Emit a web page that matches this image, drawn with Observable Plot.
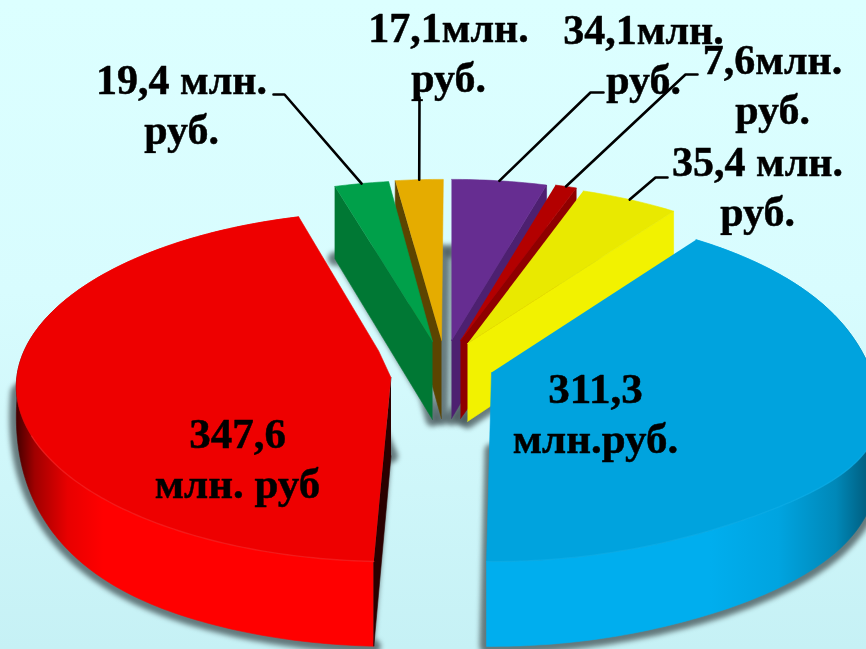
<!DOCTYPE html>
<html><head><meta charset="utf-8">
<script src="https://cdn.jsdelivr.net/npm/d3@7"></script>
<script src="https://cdn.jsdelivr.net/npm/@observablehq/plot@0.6"></script>
<style>
html,body{margin:0;padding:0;width:866px;height:649px;overflow:hidden;background:linear-gradient(180deg,#dcffff 0%,#d8fcfe 45%,#c6f1f5 100%);}
svg{display:block;background:transparent!important;}
</style></head><body><div id="chart"></div>
<script>
// data
const names  = ["red","green","orange","purple","crimson","yellow","blue"];
const values = [347.6, 19.4, 17.1, 34.1, 7.6, 35.4, 311.3];
const labels = ["347,6\nмлн. руб","19,4 млн.\nруб.","17,1млн.\nруб.","34,1млн.\nруб.","7,6млн.\nруб.","35,4 млн.\nруб.","311,3\nмлн.руб."];

// styles
const topColors  = ["#ee0000","#00a04a","#e5ac00","#662d91","#b30000","#e9e900","#00a3de"];
const wallColors = ["url(#wallRed)",null,null,null,null,null,"url(#wallBlue)"];
const cutColors  = ["#2a0000","#007834","#5c4400","#4d2070","#8f0000","#f2f200","#00a3de"];
const cutSide    = ["start","start","start","end","end","end",null];
const rimColors  = ["#ff3a3a",null,null,null,null,null,"#12b6f2"];

// layout of the exploded slices: apex in pixels, rotation in degrees, apex chamfer, front bulge
const apexX = [391,432,441,451,460,467,491];
const apexY = [372,341,340,340,340,343,372];
const twist = [1.5,0.7,0.3,0,0,0,-0.3];
const chamfer = [[0.03,0.13],[0,0],[0,0],[0,0],[0,0],[0,0],[0,0]];
const bulge = [0,0,0,0,0,0,0.06];
const RX = 374, RY = 174, K = 0.08, DEPTH = 78, W = 866, H = 649;

// label layout: centre x, first baseline y, elbow and end of the leader
const labelX = [237,181,448,643,772,757,595];
const labelY = [447,93,41,43,73,175,402];
const labelSize = [43,42,42,42,42,42,43];
const elbowA = [null,[284,94],[419,97],[590,92],[685,74],[655,177],null];
const elbowB = [null,[273,94],[419,97],[603,92],[697,74],[667,177],null];

const LINE = 50;

const pieArcs = d3.pie().sort(null).startAngle(181*Math.PI/180).endAngle(541*Math.PI/180)(values);
const proj = (i, r, a, z = 0) => {
  const deg = ((a*180/Math.PI) % 360 + 360) % 360;
  const rim = r === 1;
  const R = rim ? 1 + bulge[i]*Math.exp(-(((deg-115)/22)**2)) : r;
  const u = R*Math.sin(a), v = R*Math.cos(a), w = 1 + K*v;
  const zf = rim ? 1 - .75*(1 - Math.min(1, Math.abs(Math.cos(a))/.85))**2 : 1;
  return {x: apexX[i] + RX*u/w, y: apexY[i] - RY*v/w + z*zf*DEPTH/w};
};
const polys = [], shadows = [], leaders = [], texts = [], rims = [];
const paintOrder = [2,1,3,4,5,0,6];
values.forEach((_, i) => {
  const t = twist[i]*Math.PI/180, a0 = pieArcs[i].startAngle + t, a1 = pieArcs[i].endAngle + t;
  const n = Math.max(4, Math.ceil((a1-a0)*60));
  const arc = d3.range(n+1).map(k => a0 + (a1-a0)*k/n);
  const [c0,c1] = chamfer[i];
  const ring = z => [...arc.map(a => proj(i,1,a,z)), proj(i,c1,a1,z), proj(i,c0,a0,z)];
  shadows.push(ring(1));
  if (wallColors[i]) {
    const wall = [...arc.map(a => proj(i,1,a,0)), ...arc.slice().reverse().map(a => proj(i,1,a,1))];
    polys.push({i, pts: wall, fill: wallColors[i]});
  }
  if (cutSide[i]) {
    const a = cutSide[i]==="start" ? a0 : a1, r = cutSide[i]==="start" ? c0 : c1;
    polys.push({i, pts: [proj(i,r,a,0),proj(i,1,a,0),proj(i,1,a,1),proj(i,r,a,1)], fill: cutColors[i]});
  }
  polys.push({i, pts: ring(0), fill: topColors[i]});
  if (rimColors[i]) rims.push({pts: arc.filter(a => Math.cos(a) < -.35).map(a => proj(i,1,a,0)), stroke: rimColors[i]});
  if (elbowA[i]) {
    const m = proj(i,1,(a0+a1)/2,0);
    leaders.push([m,{x:elbowA[i][0],y:elbowA[i][1]},{x:elbowB[i][0],y:elbowB[i][1]}]);
  }
  labels[i].split("\n").forEach((s,k) => texts.push({s, fs: labelSize[i], x: labelX[i], y: labelY[i] + k*LINE - .32*labelSize[i]}));
});
polys.sort((a,b) => paintOrder.indexOf(a.i) - paintOrder.indexOf(b.i));

const defs = () => {
  const s = d3.create("svg:g");
  const d = s.append("defs");
  const grad = (id, x1, x2, stops) => {
    const g = d.append("linearGradient").attr("id",id).attr("gradientUnits","userSpaceOnUse")
      .attr("x1",x1).attr("x2",x2).attr("y1",0).attr("y2",0);
    stops.forEach(([o,c]) => g.append("stop").attr("offset",o).attr("stop-color",c));
  };
  grad("wallRed",17,160,[[0,"#4a0000"],[.12,"#a00000"],[.35,"#e80000"],[.6,"#ff0000"],[1,"#ff0000"]]);
  grad("wallBlue",870,640,[[0,"#005a7a"],[.15,"#0088b8"],[.4,"#00a4e0"],[.7,"#00aeee"],[1,"#00aeee"]]);
  return s.node();
};

const textBy = fs => texts.filter(d => d.fs === fs);
const chart = Plot.plot({
  width: W, height: H, margin: 0,
  x: {domain:[0,W], axis:null}, y: {domain:[H,0], axis:null},
  style: {background:"transparent"},
  marks: [
    defs,
    ...shadows.map(pts => Plot.line(pts,{x:"x",y:"y",fill:"#3e4c4e",stroke:"#3e4c4e",strokeWidth:14,strokeLinejoin:"round",opacity:.72,imageFilter:"blur(2.5px)"})),
    ...polys.map(p => Plot.line(p.pts,{x:"x",y:"y",fill:p.fill,stroke:p.fill,strokeWidth:.6})),
    ...rims.map(r => Plot.line(r.pts,{x:"x",y:"y",stroke:r.stroke,strokeWidth:1.4,strokeOpacity:.4,imageFilter:"blur(.6px)"})),
    ...leaders.map(l => Plot.line(l,{x:"x",y:"y",stroke:"#000",strokeWidth:2.6})),
    ...[42,43].map(fs => Plot.text(textBy(fs),{x:"x",y:"y",text:"s",fontSize:fs,fontWeight:"bold",fontFamily:"'Liberation Serif',serif",fill:"#000",stroke:"#000",strokeWidth:.5,textAnchor:"middle",imageFilter:"blur(.4px)"}))
  ]
});
document.getElementById("chart").append(chart);
</script></body></html>
